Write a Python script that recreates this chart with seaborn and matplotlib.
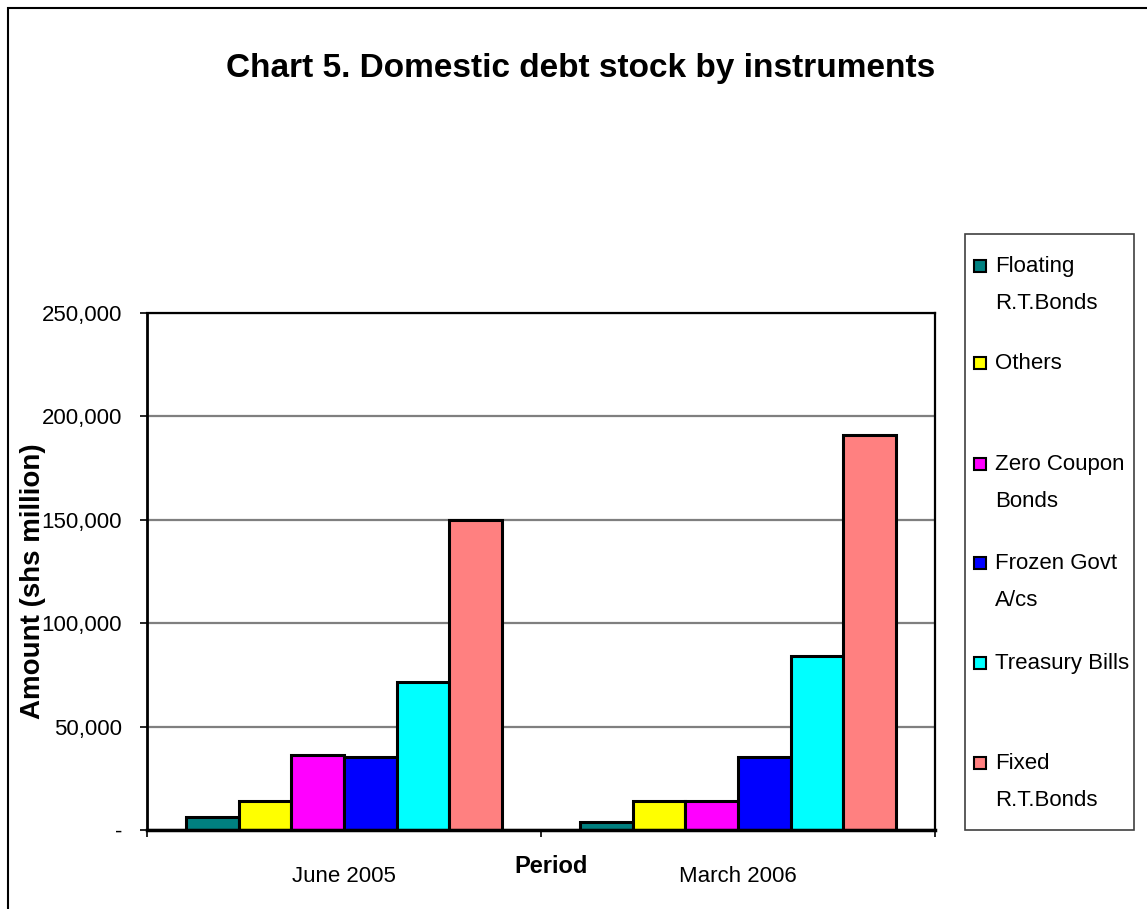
import matplotlib
matplotlib.use("Agg")
import matplotlib.pyplot as plt
import matplotlib.patches as mpatches
from matplotlib.ticker import FuncFormatter, MultipleLocator, FixedLocator
import numpy as np
import pandas as pd
import seaborn as sns

# Domestic debt stock (shs million) by instrument
periods = ["June 2005", "March 2006"]
instruments = ["Floating\nR.T.Bonds", "Others", "Zero Coupon\nBonds",
               "Frozen Govt\nA/cs", "Treasury Bills", "Fixed\nR.T.Bonds"]
june_2005 = [6300, 14200, 36300, 35200, 71700, 150000]
march_2006 = [3700, 14200, 14200, 35300, 84100, 191000]
colors = ["#008080", "#FFFF00", "#FF00FF", "#0000FF", "#00FFFF", "#FF8080"]

df = pd.DataFrame({
    "Period": np.repeat(periods, len(instruments)),
    "Instrument": instruments * len(periods),
    "Amount": june_2005 + march_2006,
})

sns.set_theme(style="white")
plt.rcParams["font.family"] = ["Liberation Sans", "DejaVu Sans"]

W, H = 1147, 909
fig = plt.figure(figsize=(W / 100, H / 100), dpi=100)
fig.patch.set_facecolor("white")

def fx(px):
    return px / W

def fy(py):
    return 1 - py / H

ax = fig.add_axes([fx(147), fy(830), fx(935) - fx(147), fy(313) - fy(830)])

sns.barplot(data=df, x="Period", y="Amount", hue="Instrument",
            order=periods, hue_order=instruments, palette=colors,
            width=0.8, gap=0, edgecolor="black", linewidth=2.2,
            saturation=1, legend=False, ax=ax)

ax.set_xlim(-0.5, 1.5)
ax.set_ylim(0, 250000)
ax.yaxis.set_major_locator(MultipleLocator(50000))
ax.yaxis.set_major_formatter(FuncFormatter(lambda v, p: "-" if v == 0 else f"{int(v):,}"))
ax.grid(axis="y", color="#7f7f7f", linewidth=1.6)
ax.set_axisbelow(True)

for side in ["left", "bottom", "top", "right"]:
    ax.spines[side].set_visible(True)
    ax.spines[side].set_color("black")
ax.spines["left"].set_linewidth(2.0)
ax.spines["bottom"].set_linewidth(2.5)
ax.spines["top"].set_linewidth(1.6)
ax.spines["right"].set_linewidth(1.6)

ax.tick_params(axis="y", which="major", left=True, length=5, width=1.2,
               color="black", pad=13, labelsize=16, labelcolor="black")
ax.tick_params(axis="x", which="major", bottom=False, length=0, pad=26,
               labelsize=16, labelcolor="black")
ax.xaxis.set_minor_locator(FixedLocator([-0.5, 0.5, 1.5]))
ax.tick_params(axis="x", which="minor", bottom=True, length=5, width=1.2, color="black")

ax.set_xlabel("Period", fontsize=17, fontweight="bold", color="black")
ax.xaxis.set_label_coords((551 - 147) / 788, (830 - 855) / 517)
ax.set_ylabel("")

fig.text(fx(33), fy(581), "Amount (shs million)", rotation=90, ha="center",
         va="center", fontsize=20, fontweight="bold", color="black")

fig.text(fx(581), fy(68), "Chart 5. Domestic debt stock by instruments",
         ha="center", va="center", fontsize=24, fontweight="bold", color="black")

# Legend panel
fig.add_artist(mpatches.Rectangle((fx(965), fy(830)), fx(1134) - fx(965),
                                  fy(234) - fy(830), transform=fig.transFigure,
                                  fill=False, edgecolor="#404040", linewidth=1.2))
entry_y = [265, 362, 463, 562, 662, 762]
for lab, col, y in zip(instruments, colors, entry_y):
    fig.add_artist(mpatches.Rectangle((fx(974), fy(y + 7)), fx(12), 12 / H,
                                      transform=fig.transFigure, facecolor=col,
                                      edgecolor="black", linewidth=1.5))
    fig.text(fx(995), fy(y - 9), lab, ha="left", va="top", fontsize=16,
             color="black", linespacing=2.0)

# Outer chart border
fig.add_artist(mpatches.Rectangle((fx(8), -0.1), 2, fy(8) + 0.1,
                                  transform=fig.transFigure, fill=False,
                                  edgecolor="black", linewidth=1.5))

fig.savefig("out.png", dpi=100)
